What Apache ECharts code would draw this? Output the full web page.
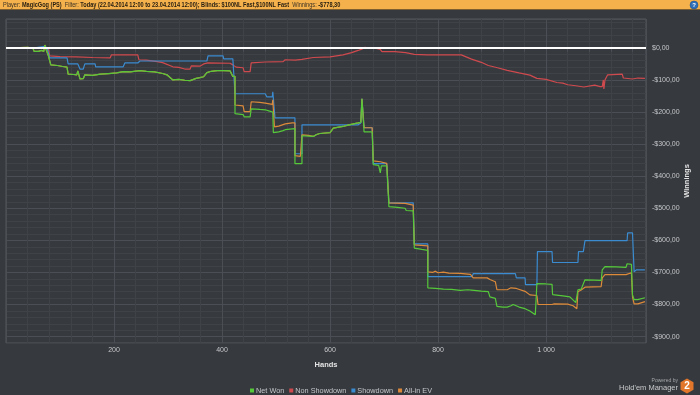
<!DOCTYPE html>
<html><head><meta charset="utf-8">
<script src="https://cdn.jsdelivr.net/npm/echarts@6/dist/echarts.min.js"></script>
<style>html,body{margin:0;padding:0;background:#36393e;}#c{width:700px;height:395px;}</style>
</head><body><div id="c"></div>
<script>
// ---- data (hand number, cumulative $) ----
const seriesNames = ['Net Won', 'Non Showdown', 'Showdown', 'All-in EV'];
const xTickLabels = [200, 400, 600, 800, 1000];
const yTickLabels = [0, -100, -200, -300, -400, -500, -600, -700, -800, -900];

const netWon = [[4,0],[15,-2],[26,1],[40,2],[50,-1],[52,-11],[60,-11],[66,-8],[70,-11],[72,9],[74,-4],[78,-22],[81,-22],[83,-53],[95,-55],[105,-58],[113,-60],[115,-82],[125,-83],[131,-84],[133,-72],[135,-74],[137,-97],[143,-96],[146,-84],[160,-86],[175,-82],[190,-80],[205,-78],[217,-74],[230,-75],[248,-71],[260,-73],[275,-75],[290,-80],[298,-84],[309,-100],[320,-98],[331,-101],[341,-102],[352,-95],[359,-93],[366,-90],[372,-77],[380,-73],[391,-71],[402,-71],[415,-72],[420,-89],[424,-89],[424,-205],[439,-208],[441,-215],[452,-215],[454,-190],[470,-192],[480,-193],[488,-197],[494,-200],[495,-264],[505,-262],[513,-258],[517,-255],[520,-252],[535,-252],[535,-361],[548,-361],[548,-274],[560,-275],[569,-276],[575,-270],[581,-267],[600,-264],[606,-250],[624,-245],[635,-240],[652,-234],[657,-232],[659,-159],[661,-160],[663,-262],[678,-262],[680,-364],[690,-366],[693,-390],[695,-368],[705,-368],[709,-495],[725,-497],[739,-500],[741,-507],[754,-508],[756,-624],[770,-628],[781,-631],[781,-748],[795,-750],[810,-752],[825,-753],[841,-756],[843,-758],[855,-754],[858,-748],[862,-755],[880,-758],[893,-760],[896,-776],[906,-781],[909,-806],[920,-808],[928,-808],[935,-804],[939,-800],[950,-808],[961,-813],[970,-820],[980,-832],[983,-832],[983,-735],[1000,-736],[1011,-737],[1012,-769],[1031,-773],[1044,-776],[1055,-794],[1057,-794],[1059,-754],[1065,-752],[1072,-723],[1090,-724],[1102,-725],[1104,-692],[1109,-682],[1130,-683],[1148,-684],[1150,-673],[1158,-675],[1160,-770],[1163,-785],[1170,-785],[1183,-779]];

const nonShowdown = [[4,0],[50,-1],[78,0],[81,-25],[100,-27],[130,-28],[160,-30],[193,-31],[195,-22],[244,-22],[246,-37],[260,-38],[280,-43],[290,-46],[309,-59],[320,-61],[331,-66],[341,-66],[343,-56],[359,-57],[366,-50],[374,-47],[415,-48],[420,-53],[426,-60],[439,-62],[441,-74],[452,-74],[454,-47],[457,-43],[480,-44],[513,-43],[517,-37],[535,-38],[548,-36],[569,-30],[600,-28],[624,-22],[640,-15],[652,-8],[660,-3],[665,2],[670,0],[680,1],[693,-5],[696,-12],[720,-12],[740,-15],[756,-20],[780,-22],[810,-22],[843,-22],[862,-35],[880,-45],[893,-55],[910,-62],[928,-70],[950,-78],[970,-85],[983,-95],[1000,-98],[1020,-108],[1031,-110],[1040,-115],[1055,-118],[1070,-122],[1090,-116],[1100,-121],[1104,-121],[1106,-100],[1107,-128],[1109,-100],[1114,-84],[1117,-81],[1141,-82],[1143,-94],[1160,-97],[1170,-94],[1183,-95]];

const showdown = [[4,0],[26,1],[50,-1],[72,5],[76,0],[81,-31],[113,-31],[115,-50],[133,-50],[137,-66],[143,-66],[146,-50],[165,-50],[166,-59],[217,-59],[220,-47],[244,-47],[248,-41],[372,-41],[374,-25],[402,-25],[403,-34],[420,-34],[424,-143],[480,-143],[483,-153],[493,-153],[494,-137],[497,-137],[498,-218],[535,-218],[535,-330],[548,-330],[548,-240],[652,-240],[657,-234],[659,-159],[661,-160],[663,-249],[678,-249],[680,-361],[705,-361],[709,-483],[754,-483],[756,-611],[781,-611],[781,-713],[863,-713],[865,-704],[943,-704],[945,-717],[961,-717],[962,-738],[983,-738],[984,-635],[1011,-635],[1012,-669],[1059,-669],[1060,-635],[1069,-635],[1072,-601],[1150,-601],[1151,-577],[1160,-577],[1163,-698],[1167,-692],[1183,-692]];

const allInEV = [[4,0],[15,-2],[26,1],[40,2],[50,-1],[52,-11],[60,-11],[66,-8],[70,-11],[72,9],[74,-4],[78,-22],[81,-22],[83,-53],[95,-55],[105,-58],[113,-60],[115,-82],[125,-83],[131,-84],[133,-72],[135,-74],[137,-97],[143,-96],[146,-84],[160,-86],[175,-82],[190,-80],[205,-78],[217,-74],[230,-75],[248,-71],[260,-73],[275,-75],[290,-80],[298,-84],[309,-100],[320,-98],[331,-101],[341,-102],[352,-95],[359,-93],[366,-90],[372,-77],[380,-73],[391,-71],[402,-71],[415,-72],[420,-89],[424,-89],[424,-178],[439,-181],[441,-199],[452,-199],[454,-168],[470,-170],[480,-172],[493,-176],[494,-162],[496,-162],[497,-246],[505,-244],[517,-237],[530,-234],[535,-234],[535,-336],[545,-338],[548,-338],[548,-271],[560,-273],[569,-276],[575,-270],[581,-267],[600,-264],[606,-250],[624,-245],[635,-240],[652,-234],[657,-232],[659,-159],[661,-160],[663,-249],[678,-249],[680,-352],[693,-355],[696,-359],[705,-360],[709,-483],[739,-485],[741,-487],[754,-490],[756,-614],[781,-617],[781,-698],[790,-700],[795,-696],[800,-701],[810,-699],[820,-702],[841,-703],[844,-706],[860,-706],[863,-701],[865,-717],[891,-717],[896,-722],[906,-729],[909,-754],[928,-754],[935,-748],[945,-750],[946,-756],[961,-759],[970,-770],[983,-772],[985,-800],[1011,-800],[1015,-798],[1040,-799],[1050,-804],[1057,-813],[1059,-760],[1065,-755],[1072,-746],[1102,-744],[1104,-717],[1109,-707],[1148,-707],[1150,-701],[1158,-701],[1160,-776],[1163,-798],[1170,-798],[1183,-791]];

// ---- styling ----
const MAJ = '#4b4e54', MIN = '#3f4247';
const colors = {'Net Won':'#55c93a','Non Showdown':'#cf4a4e','Showdown':'#3a8bd0','All-in EV':'#dc8a3a'};
const labelColor = '#c4c6c8';
const FONT = 'Liberation Sans';

const fmtY = v => yTickLabels.indexOf(v) < 0 ? '' : (v < 0 ? '-$' + Math.abs(v) + ',00' : '$' + v + ',00');
const fmtX = v => xTickLabels.indexOf(v) < 0 ? '' : String(v).replace(/\B(?=(\d{3})+(?!\d))/g, ' ');

function lineSeries(name, data, extra) {
  return Object.assign({
    name, type: 'line', data, symbol: 'none', showSymbol: false,
    lineStyle: {width: 1.2, color: colors[name]}, itemStyle: {color: colors[name]},
    animation: false
  }, extra || {});
}

const chart = echarts.init(document.getElementById('c'));
chart.setOption({
  backgroundColor: '#36393e',
  animation: false,
  textStyle: {fontFamily: FONT},
  grid: {left: 6, right: 54, top: 19, bottom: 52, show: true, borderColor: '#55585d', borderWidth: 1,
    backgroundColor: 'transparent', containLabel: false, outerBoundsMode: 'none'},
  xAxis: {
    type: 'value', min: 0, max: 1185, interval: 40,
    name: 'Hands', nameLocation: 'middle', nameGap: 18, nameMoveOverlap: false,
    nameTextStyle: {color: '#e4e4e4', fontWeight: 'bold', fontSize: 7.5, fontFamily: FONT},
    axisLine: {show: false},
    axisTick: {show: true, length: 4, lineStyle: {color: MAJ}},
    axisLabel: {formatter: fmtX, color: labelColor, fontSize: 7, margin: 4, fontFamily: FONT, showMinLabel: true, showMaxLabel: false},
    splitLine: {show: true, lineStyle: {color: [MAJ, MIN, MIN, MIN, MIN], width: 1}}
  },
  yAxis: {
    type: 'value', position: 'right', min: -920, max: 90, interval: 20,
    name: 'Winnings', nameLocation: 'middle', nameGap: 37, nameRotate: 90, nameMoveOverlap: false,
    nameTextStyle: {color: '#e4e4e4', fontWeight: 'bold', fontSize: 7.5, fontFamily: FONT},
    axisLine: {show: false}, axisTick: {show: false},
    axisLabel: {formatter: fmtY, color: labelColor, fontSize: 7, margin: 6, fontFamily: FONT},
    splitLine: {show: true, lineStyle: {color: [MIN, MAJ, MIN, MIN, MIN], width: 1}}
  },
  legend: {
    data: seriesNames, left: 245, top: 382, icon: 'rect', itemWidth: 4, itemHeight: 4, itemGap: 5,
    textStyle: {color: labelColor, fontSize: 7.3, fontFamily: FONT, padding: [0, 0, 0, -3]}
  },
  series: [
    lineSeries('Non Showdown', nonShowdown),
    lineSeries('Showdown', showdown),
    lineSeries('All-in EV', allInEV),
    lineSeries('Net Won', netWon, {
      markLine: {silent: true, symbol: 'none', label: {show: false},
        lineStyle: {color: '#ffffff', width: 2, type: 'solid'}, data: [{yAxis: 0}]}
    })
  ],
  graphic: [
    {type: 'rect', shape: {x: 0, y: 0, width: 700, height: 9}, style: {fill: '#f5b14b'}, z: 100},
    {type: 'rect', shape: {x: 0, y: 9, width: 700, height: 1}, style: {fill: '#7d5f30'}, z: 100},
    {type: 'text', x: 3, y: 4.8, z: 101, scaleX: 0.86, style: {
      text: '{l|Player:} {b|MagicGog (PS)}  {l|Filter:} {b|Today (22.04.2014 12:00 to 23.04.2014 12:00); Blinds: $100NL Fast,$100NL Fast}  {l|Winnings:} {b|-$778,30}',
      verticalAlign: 'middle', font: '6.5px Liberation Sans',
      rich: {l: {fill: '#3a3226', fontSize: 6.5, fontFamily: FONT}, b: {fill: '#241d12', fontSize: 6.5, fontWeight: 'bold', fontFamily: FONT}}
    }},
    {type: 'circle', shape: {cx: 694, cy: 5, r: 4}, style: {fill: '#2f6fb8', stroke: '#1d4f8a', lineWidth: 0.5}, z: 101},
    {type: 'text', x: 694, y: 5.3, z: 102, style: {text: '?', fill: '#ffffff', font: 'bold 6px Liberation Sans', align: 'center', verticalAlign: 'middle'}},
    {type: 'text', x: 678, y: 380.5, z: 50, style: {text: 'Powered by', fill: '#a4a6a8', font: '5px Liberation Sans', align: 'right', verticalAlign: 'middle'}},
    {type: 'text', x: 678, y: 387.5, z: 50, style: {text: "Hold'em Manager", fill: '#c8c9ca', font: '7.5px Liberation Sans', align: 'right', verticalAlign: 'middle'}},
    {type: 'polygon', z: 50, shape: {points: [[687,378.5],[693.5,382.2],[693.5,389.8],[687,393.5],[680.5,389.8],[680.5,382.2]]}, style: {fill: '#e2762a'}},
    {type: 'text', x: 687, y: 386.3, z: 51, style: {text: '2', fill: '#ffffff', font: 'bold 10px Liberation Sans', align: 'center', verticalAlign: 'middle'}}
  ]
});
</script></body></html>
